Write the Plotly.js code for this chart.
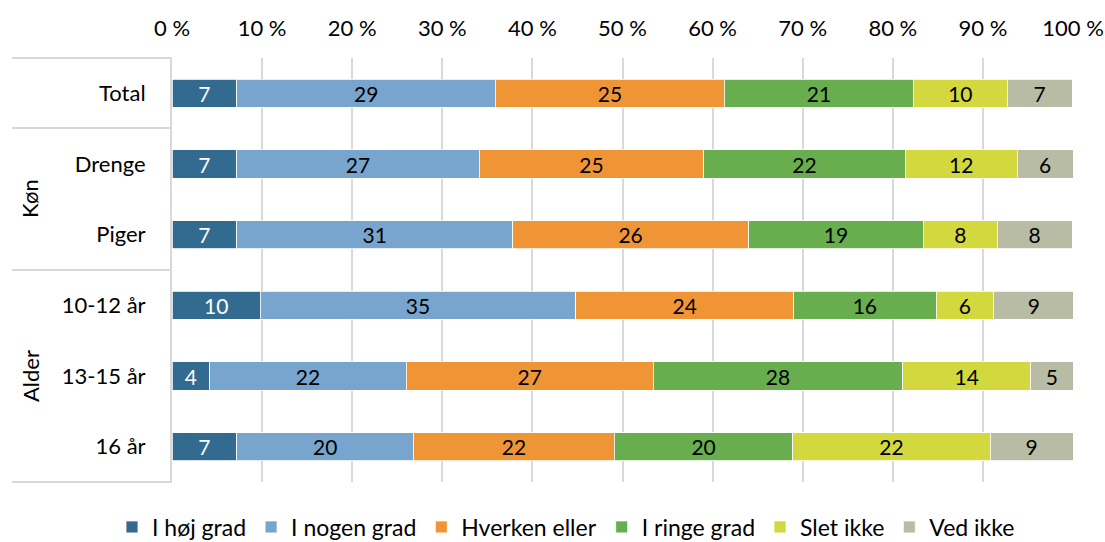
<!DOCTYPE html>
<html>
<head>
<meta charset="utf-8">
<script src="https://cdn.plot.ly/plotly-3.0.1.min.js"></script>
<style>html,body{margin:0;padding:0;background:#fff;}#chart{width:1105px;height:542px;}</style>
</head>
<body>
<div id="chart"></div>
<script>
const categories = ['Total', 'Drenge', 'Piger', '10-12 år', '13-15 år', '16 år'];
const seriesNames = ['I høj grad', 'I nogen grad', 'Hverken eller', 'I ringe grad', 'Slet ikke', 'Ved ikke'];
const hojGrad = [7.2, 7.2, 7.2, 9.8, 4.2, 7.2];
const nogenGrad = [28.7, 26.9, 30.6, 35.0, 21.8, 19.6];
const hverkenEller = [25.4, 24.9, 26.2, 24.2, 27.4, 22.3];
const ringeGrad = [21.0, 22.4, 19.4, 15.8, 27.7, 19.8];
const sletIkke = [10.4, 12.4, 8.2, 6.4, 14.2, 21.9];
const vedIkke = [7.2, 6.2, 8.3, 8.9, 4.7, 9.2];
const tickVals = [0, 10, 20, 30, 40, 50, 60, 70, 80, 90, 100];
const tickLabels = ['0 %', '10 %', '20 %', '30 %', '40 %', '50 %', '60 %', '70 %', '80 %', '90 %', '100 %'];

const colors = ['#336A90', '#78A5CD', '#F09535', '#68AD4E', '#D2D83E', '#B8BCA4'];
const textColors = ['#ffffff', '#000000', '#000000', '#000000', '#000000', '#000000'];
const allSeries = [hojGrad, nogenGrad, hverkenEller, ringeGrad, sletIkke, vedIkke];
const FONT = 'Lato, "Open Sans", sans-serif';

const traces = allSeries.map((vals, i) => ({
  type: 'bar',
  orientation: 'h',
  name: seriesNames[i],
  y: categories,
  x: vals,
  marker: {color: colors[i], line: {color: '#ffffff', width: 0.8}},
  texttemplate: '%{x:.0f}',
  textposition: 'inside',
  insidetextanchor: 'middle',
  textangle: 0,
  constraintext: 'none',
  textfont: {family: FONT, size: 21, color: textColors[i]},
  hoverinfo: 'skip'
}));

const W = 1105, H = 542;
const L = 172, R = 1073, T = 58, B = 482;
const pw = R - L, ph = B - T;
const px = v => (v - L) / pw;
const py = v => (B - v) / ph;
const lineStyle = {color: '#d9d9d9', width: 2};
const sepY = [T, 128, 270, B];
const shapes = sepY.map(y => ({
  type: 'line', xref: 'paper', yref: 'paper',
  x0: px(12), x1: 0, y0: py(y), y1: py(y), line: lineStyle
}));

const layout = {
  width: W, height: H,
  margin: {l: L, r: W - R, t: T, b: H - B, autoexpand: false},
  paper_bgcolor: '#fff', plot_bgcolor: '#fff',
  barmode: 'stack',
  bargap: 0.6,
  font: {family: FONT, size: 22, color: '#000'},
  xaxis: {
    side: 'top', range: [0, 100], tickmode: 'array', tickvals: tickVals, ticktext: tickLabels,
    showgrid: true, gridcolor: '#d9d9d9', gridwidth: 2,
    zeroline: false, showline: false, ticks: '',
    ticklabelstandoff: 17,
    tickfont: {family: FONT, size: 22, color: '#000'},
    fixedrange: true
  },
  yaxis: {
    type: 'category', categoryorder: 'array', categoryarray: categories,
    autorange: 'reversed',
    showgrid: false, zeroline: false,
    showline: true, linecolor: '#d9d9d9', linewidth: 2,
    ticks: '', ticklabelstandoff: 20,
    tickfont: {family: FONT, size: 22, color: '#000'},
    fixedrange: true
  },
  shapes: shapes,
  annotations: [
    {text: 'Køn', xref: 'paper', yref: 'paper', x: px(30), xanchor: 'center', yanchor: 'middle',
     y: (py(128) + py(270)) / 2,
     showarrow: false, textangle: -90, font: {family: FONT, size: 22, color: '#000'}},
    {text: 'Alder', xref: 'paper', yref: 'paper', x: px(30), xanchor: 'center', yanchor: 'middle',
     y: (py(270) + py(B)) / 2,
     showarrow: false, textangle: -90, font: {family: FONT, size: 22, color: '#000'}}
  ],
  showlegend: true,
  legend: {
    orientation: 'h', xref: 'paper', yref: 'paper',
    x: px(112), xanchor: 'left', y: py(527), yanchor: 'middle',
    font: {family: FONT, size: 23, color: '#000'},
    itemwidth: 30, traceorder: 'normal', bgcolor: 'rgba(0,0,0,0)'
  }
};

Plotly.newPlot('chart', traces, layout, {displayModeBar: false, staticPlot: true});
</script>
</body>
</html>
